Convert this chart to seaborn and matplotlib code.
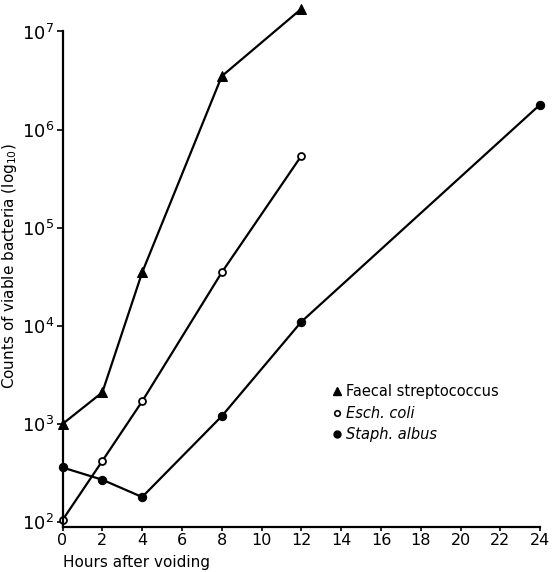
import numpy as np
import pandas as pd
import matplotlib
matplotlib.use("Agg")
import matplotlib.pyplot as plt
import seaborn as sns
from matplotlib.lines import Line2D

# ==========================================
# Data
# ==========================================
hours_strep = [0, 2, 4, 8, 12]
counts_strep = [1.0e3, 2.1e3, 3.5e4, 3.5e6, 1.7e7]

hours_coli = [0, 2, 4, 8, 12]
counts_coli = [1.05e2, 4.2e2, 1.7e3, 3.5e4, 5.4e5]

hours_staph = [0, 2, 4, 8, 12, 24]
counts_staph = [3.6e2, 2.7e2, 1.8e2, 1.2e3, 1.1e4, 1.8e6]

x_ticks = list(range(0, 25, 2))
y_ticks = [1e2, 1e3, 1e4, 1e5, 1e6, 1e7]
y_tick_labels = ["$10^{%d}$" % int(np.log10(v)) for v in y_ticks]

labels = ["Faecal streptococcus", "Esch. coli", "Staph. albus"]

# ==========================================
# Figure
# ==========================================
sns.set_style("white")
plt.rcParams["font.family"] = ["DejaVu Sans"]
plt.rcParams["text.color"] = "black"
plt.rcParams["axes.labelcolor"] = "black"
plt.rcParams["xtick.color"] = "black"
plt.rcParams["ytick.color"] = "black"

fig = plt.figure(figsize=(5.56, 5.72), dpi=100)
ax = fig.add_axes([0.1125, 0.0787, 0.859, 0.9126])

line_kw = dict(color="black", linewidth=1.6, ax=ax, clip_on=False)

sns.lineplot(x=hours_strep, y=counts_strep, marker="^", markersize=7,
             markerfacecolor="black", markeredgecolor="black", **line_kw)
sns.lineplot(x=hours_coli, y=counts_coli, marker="o", markersize=5,
             markerfacecolor="white", markeredgecolor="black",
             markeredgewidth=1.3, **line_kw)
sns.lineplot(x=hours_staph, y=counts_staph, marker="o", markersize=6,
             markerfacecolor="black", markeredgecolor="black", **line_kw)

ax.set_yscale("log")
ax.set_xlim(0, 24)
ax.set_ylim(10 ** 1.95, 10 ** 7.27)

ax.set_xticks(x_ticks)
ax.set_xticklabels([str(v) for v in x_ticks], fontsize=11.5)
ax.set_yticks(y_ticks)
ax.set_yticklabels(y_tick_labels, fontsize=13)
ax.yaxis.set_minor_locator(matplotlib.ticker.NullLocator())

ax.tick_params(axis="both", direction="out", width=1.2,
               color="black", left=True, bottom=True)
ax.tick_params(axis="x", length=3, pad=1)
ax.tick_params(axis="y", length=4, pad=2)

sns.despine(ax=ax)
for side in ["left", "bottom"]:
    ax.spines[side].set_color("black")
    ax.spines[side].set_linewidth(1.6)
ax.spines["left"].set_bounds(10 ** 1.95, 1e7)

ax.set_ylabel("Counts of viable bacteria (log$_{10}$)", fontsize=11, labelpad=2)
ax.set_xlabel("")
fig.text(0.1125, 0.004, "Hours after voiding", fontsize=11, ha="left", va="bottom")

# Legend
handles = [
    Line2D([], [], linestyle="none", marker="^", markersize=6,
           markerfacecolor="black", markeredgecolor="black"),
    Line2D([], [], linestyle="none", marker="o", markersize=4,
           markerfacecolor="white", markeredgecolor="black", markeredgewidth=1.2),
    Line2D([], [], linestyle="none", marker="o", markersize=5,
           markerfacecolor="black", markeredgecolor="black"),
]
leg = fig.legend(handles, labels, loc="upper left",
                 bbox_to_anchor=(325 / 556, 1 - 377 / 572),
                 frameon=False, fontsize=10.5, handlelength=0.6,
                 handletextpad=0.35, labelspacing=0.45, borderpad=0)
leg.get_texts()[1].set_style("italic")
leg.get_texts()[2].set_style("italic")

fig.savefig("out.png", dpi=100)
